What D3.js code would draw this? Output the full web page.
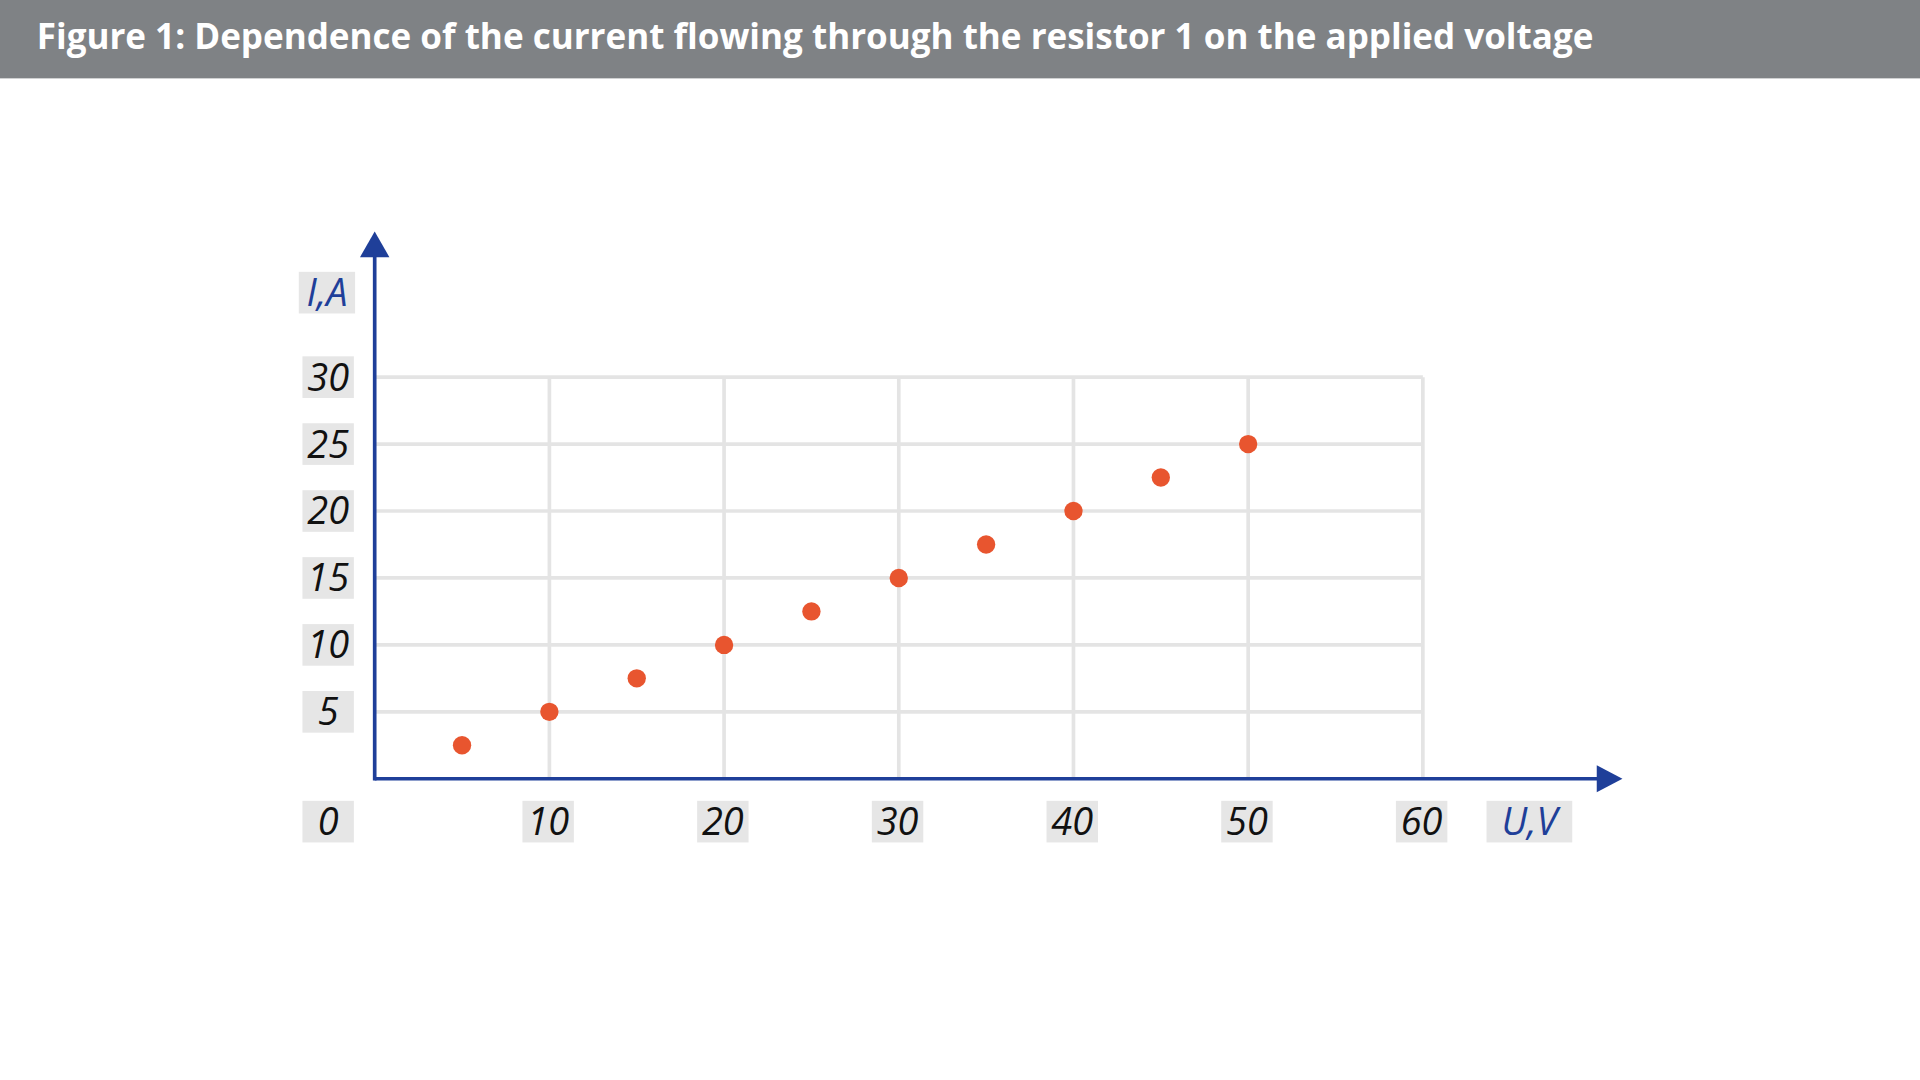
<!DOCTYPE html>
<html>
<head>
<meta charset="utf-8">
<script src="https://cdn.jsdelivr.net/npm/d3@7"></script>
<style>
  html, body { margin: 0; padding: 0; background: #fff; }
  svg { display: block; }
</style>
</head>
<body>
<script>
// data
const voltage = [5, 10, 15, 20, 25, 30, 35, 40, 45, 50]
const current = [2.5, 5, 7.5, 10, 12.5, 15, 17.5, 20, 22.5, 25]
const xTicks = [10, 20, 30, 40, 50, 60]
const yTicks = [5, 10, 15, 20, 25, 30]
const title = 'Figure 1: Dependence of the current flowing through the resistor 1 on the applied voltage'

// drawn in a 1568x882 space, scaled up to the window
const W = 1568, H = 882
const blue = '#1f3f99', dot = '#e8552f', grid = '#e4e4e4', box = '#e6e6e6'
const font = '"Open Sans", "Noto Sans", sans-serif'

const svg = d3.select('body').append('svg')
  .attr('width', 1920).attr('height', 1080)
  .attr('viewBox', `0 0 ${W} ${H}`)

const x = d3.scaleLinear().domain([0, 60]).range([306, 1162])
const y = d3.scaleLinear().domain([0, 30]).range([636, 308])

// header
svg.append('rect').attr('width', W).attr('height', 64).attr('fill', '#7f8285')
svg.append('text').attr('x', 30).attr('y', 40)
  .attr('fill', '#fff').attr('font-family', font).attr('font-weight', 700)
  .attr('font-size', 28.6).text(title)

// grid
const g = svg.append('g')
g.selectAll('.vg').data(xTicks).join('line')
  .attr('x1', d => x(d)).attr('x2', d => x(d))
  .attr('y1', y(0)).attr('y2', y(30))
  .attr('stroke', grid).attr('stroke-width', 3)
g.selectAll('.hg').data(yTicks).join('line')
  .attr('x1', x(0)).attr('x2', x(60))
  .attr('y1', d => y(d)).attr('y2', d => y(d))
  .attr('stroke', grid).attr('stroke-width', 3)

// axes with arrows
svg.append('line').attr('x1', x(0)).attr('x2', 1306).attr('y1', y(0)).attr('y2', y(0))
  .attr('stroke', blue).attr('stroke-width', 3)
svg.append('path').attr('d', `M1304,${y(0) - 11} L1325,${y(0)} L1304,${y(0) + 11} Z`).attr('fill', blue)
svg.append('line').attr('x1', x(0)).attr('x2', x(0)).attr('y1', y(0) + 1.5).attr('y2', 206)
  .attr('stroke', blue).attr('stroke-width', 3)
svg.append('path').attr('d', `M${x(0) - 12},210 L${x(0)},189 L${x(0) + 12},210 Z`).attr('fill', blue)

// boxed labels
function label(cx, cy, w, txt, color) {
  svg.append('rect').attr('x', cx - w / 2).attr('y', cy - 17).attr('width', w).attr('height', 34).attr('fill', box)
  svg.append('text').attr('x', cx).attr('y', cy + 11)
    .attr('text-anchor', 'middle').attr('font-family', font).attr('font-style', 'italic')
    .attr('font-size', 31).attr('fill', color).text(txt)
}
yTicks.forEach(d => label(268, y(d), 42, d, '#111'))
xTicks.forEach(d => label(x(d) - 1, 671, 42, d, '#111'))
label(268, 671, 42, '0', '#111')
label(1249, 671, 70, 'U,V', blue)
label(267, 239, 46, 'I,A', blue)

// points
svg.selectAll('.pt').data(voltage).join('circle')
  .attr('cx', d => x(d)).attr('cy', (d, i) => y(current[i]))
  .attr('r', 7.5).attr('fill', dot)
</script>
</body>
</html>
